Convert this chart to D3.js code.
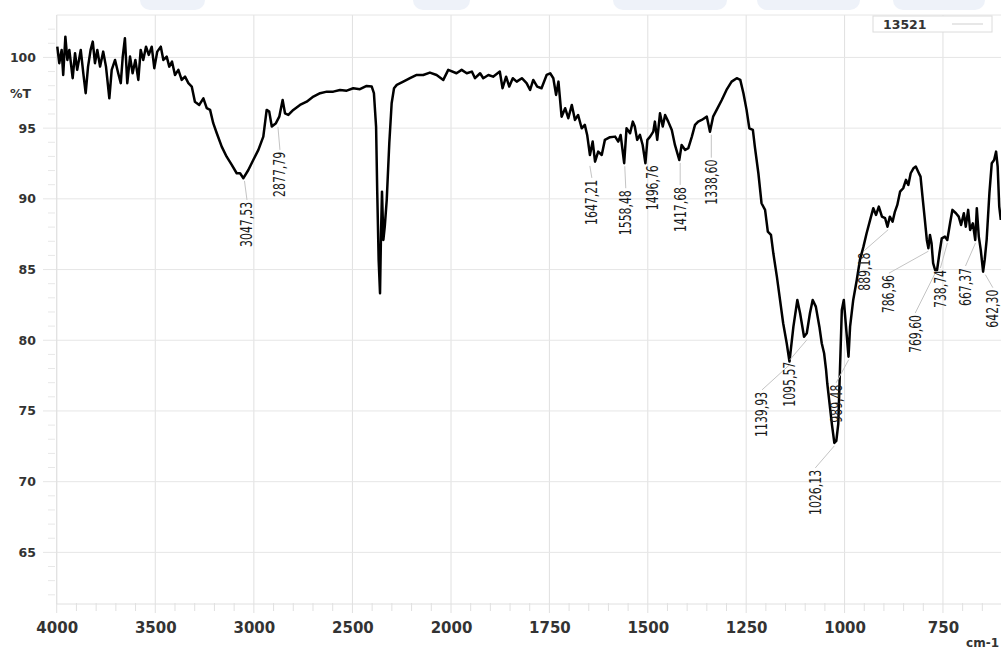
<!DOCTYPE html>
<html>
<head>
<meta charset="utf-8">
<script src="https://cdn.jsdelivr.net/npm/d3@7"></script>
<style>
  body { margin: 0; background: #fff; }
  text { font-family: 'DejaVu Sans', sans-serif; }
</style>
</head>
<body>
<svg width="1001" height="649"></svg>
<script>
// spectrum (cm-1, %T)
const wavenumber = [
  3997, 3987, 3975, 3967, 3956, 3946, 3936, 3919, 3907, 3896, 3878, 3865, 3853, 3841, 3828, 3817,
  3806, 3794, 3780, 3764, 3750, 3733, 3721, 3704, 3688, 3675, 3665, 3654, 3642, 3628, 3615, 3601,
  3586, 3574, 3561, 3547, 3533, 3518, 3505, 3490, 3472, 3459, 3442, 3429, 3415, 3400, 3383, 3366,
  3349, 3332, 3315, 3299, 3277, 3256, 3239, 3222, 3206, 3188, 3163, 3138, 3112, 3087, 3070, 3053,
  3028, 3003, 2977, 2952, 2935, 2922, 2909, 2888, 2871, 2854, 2842, 2825, 2800, 2766, 2732, 2698,
  2664, 2630, 2597, 2563, 2529, 2496, 2462, 2428, 2402, 2391, 2380, 2374, 2367, 2360, 2355, 2350,
  2343, 2336, 2326, 2313, 2301, 2289, 2275, 2242, 2208, 2174, 2141, 2107, 2073, 2039, 2014, 1986,
  1973, 1960, 1947, 1939, 1926, 1918, 1905, 1893, 1876, 1869, 1860, 1852, 1843, 1833, 1820, 1808,
  1799, 1791, 1781, 1770, 1757, 1748, 1740, 1733, 1727, 1719, 1710, 1702, 1693, 1685, 1677, 1668,
  1660, 1654, 1647, 1640, 1634, 1626, 1617, 1609, 1596, 1583, 1575, 1569, 1560, 1554, 1545, 1538,
  1533, 1527, 1520, 1513, 1506, 1501, 1494, 1486, 1482, 1476, 1469, 1462, 1456, 1448, 1439, 1431,
  1420, 1414, 1405, 1397, 1388, 1380, 1372, 1363, 1350, 1342, 1334, 1325, 1312, 1300, 1287, 1274,
  1265, 1257, 1249, 1242, 1233, 1228, 1219, 1211, 1202, 1195, 1187, 1181, 1172, 1164, 1156, 1147,
  1140, 1130, 1120, 1113, 1103, 1096, 1088, 1081, 1073, 1064, 1058, 1052, 1047, 1044, 1032, 1026,
  1021, 1016, 1007, 1002, 990, 986, 978, 969, 961, 952, 944, 935, 927, 920, 913, 905,
  897, 891, 885, 878, 872, 866, 859, 851, 844, 838, 832, 825, 819, 813, 807, 802,
  796, 791, 787, 783, 779, 775, 770, 765, 759, 753, 745, 739, 732, 726, 717, 710,
  704, 697, 692, 686, 681, 674, 668, 664, 659, 654, 648, 644, 639, 632, 626, 620,
  615, 611, 607, 603
]
const transmittance = [
  100.76, 99.59, 100.53, 98.76, 101.47, 99.82, 100.53, 98.53, 100.30, 99.12, 100.53, 98.88, 97.47, 99.35, 100.53, 101.12,
  99.59, 100.53, 99.35, 100.41, 99.35, 97.11, 99.12, 99.82, 98.88, 98.18, 100.06, 101.36, 98.18, 100.06, 98.88, 99.82,
  98.41, 100.53, 99.82, 100.76, 100.18, 100.76, 99.24, 100.41, 100.76, 99.82, 100.06, 99.35, 99.70, 98.76, 99.12, 98.41,
  98.64, 98.18, 97.94, 96.87, 96.64, 97.11, 96.41, 96.29, 95.35, 94.64, 93.69, 92.98, 92.40, 91.81, 91.81, 91.46,
  92.04, 92.75, 93.46, 94.40, 96.29, 96.17, 95.11, 95.35, 95.81, 96.99, 96.05, 95.93, 96.29, 96.64, 96.87, 97.23,
  97.47, 97.58, 97.58, 97.70, 97.65, 97.82, 97.75, 97.98, 97.94, 97.47, 95.11, 90.40, 85.68, 83.32, 87.57, 90.51,
  87.09, 88.03, 89.92, 93.93, 96.76, 97.82, 98.06, 98.29, 98.53, 98.76, 98.76, 98.93, 98.76, 98.41, 99.12, 98.88,
  99.12, 98.88, 99.00, 98.53, 98.88, 98.53, 98.76, 98.64, 99.00, 97.82, 98.64, 97.94, 98.53, 98.29, 98.53, 98.18,
  97.70, 98.41, 97.94, 97.82, 98.76, 98.88, 98.53, 97.35, 98.29, 95.81, 96.41, 95.70, 96.64, 95.58, 95.93, 94.99,
  95.23, 94.52, 93.10, 94.05, 92.63, 93.34, 93.10, 94.17, 94.36, 94.40, 94.05, 94.52, 92.52, 94.99, 94.64, 95.46,
  95.11, 94.17, 94.52, 93.81, 92.52, 94.17, 94.40, 94.75, 95.46, 94.17, 96.05, 95.11, 95.93, 95.46, 94.87, 93.81,
  92.75, 93.81, 93.46, 93.58, 94.40, 95.23, 95.46, 95.58, 95.81, 94.75, 95.81, 96.29, 96.99, 97.70, 98.29, 98.53,
  98.41, 97.47, 96.29, 94.99, 94.87, 93.69, 91.81, 89.69, 89.22, 87.68, 87.45, 86.15, 84.50, 82.85, 81.20, 79.79,
  78.49, 80.96, 82.85, 81.91, 80.25, 80.50, 81.91, 82.85, 82.38, 80.96, 79.79, 79.08, 77.90, 76.96, 74.01, 72.74,
  72.88, 74.08, 82.14, 82.85, 78.84, 80.96, 82.85, 84.26, 85.68, 86.62, 87.57, 88.51, 89.34, 88.86, 89.45, 88.74,
  88.63, 88.03, 88.74, 88.39, 89.10, 89.57, 90.51, 90.75, 91.34, 90.98, 91.81, 92.16, 92.28, 91.92, 91.57, 90.16,
  88.51, 87.09, 86.51, 87.45, 86.86, 85.45, 84.97, 84.97, 86.15, 87.21, 87.33, 87.09, 88.27, 89.22, 88.98, 88.74,
  88.15, 88.98, 88.03, 89.22, 87.80, 88.27, 87.09, 89.34, 87.33, 86.39, 84.85, 85.68, 87.09, 90.40, 92.52, 92.75,
  93.34, 92.28, 89.45, 88.51
]

// labelled peaks
const peakWavenumber = [3047.53, 2877.79, 1647.21, 1558.48, 1496.76, 1417.68, 1338.60, 1139.93, 1095.57,
  1026.13, 989.48, 889.18, 786.96, 769.60, 738.74, 667.37, 642.30]
const peakTransmittance = [91.48, 95.30, 92.54, 92.52, 92.52, 92.75, 94.75, 78.47, 80.25,
  72.74, 78.84, 88.03, 86.51, 84.97, 87.09, 87.09, 84.85]
// where each label sits relative to its peak (px)
const peakLabelOffset = [[2.5, 24], [2, 28], [2, 17], [1, 27], [3, 2], [0, 27], [0, 28], [-27.5, 30], [-17, 25],
  [-19, 27], [-12.5, 28], [-24, 26], [-39.5, 27], [-20, 45], [-7, 30], [-10, 28], [7.5, 18]]

const xTicks = [4000, 3500, 3000, 2500, 2000, 1750, 1500, 1250, 1000, 750]
const yTicks = [65, 70, 75, 80, 85, 90, 95, 100]
const seriesName = '13521'

const svg = d3.select('svg')
const plot = { left: 56.7, right: 1001, top: 15, bottom: 604 }

const x = d3.scaleLinear().domain([4000, 2000, 600]).range([plot.left, 451, 1002])
const y = d3.scaleLinear().domain([61.35, 103]).range([plot.bottom, plot.top])

// faint watermark strip at the top edge
const wm = [[140, 205], [413, 470], [613, 727], [757, 860], [893, 985]]
svg.selectAll('rect.wm').data(wm).enter().append('rect')
  .attr('class', 'wm')
  .attr('x', d => d[0]).attr('width', d => d[1] - d[0])
  .attr('y', -12).attr('height', 22).attr('rx', 10)
  .style('fill', '#eef2f9')

// grid
const grid = svg.append('g')
grid.selectAll('line.v').data(xTicks).enter().append('line')
  .attr('x1', d => x(d)).attr('x2', d => x(d))
  .attr('y1', plot.top).attr('y2', plot.bottom + 9)
  .attr('stroke', '#e0e0e0')
grid.selectAll('line.h').data(yTicks).enter().append('line')
  .attr('x1', 43).attr('x2', plot.right)
  .attr('y1', d => y(d)).attr('y2', d => y(d))
  .attr('stroke', '#e6e6e6')
grid.append('line').attr('x1', plot.left).attr('x2', plot.right).attr('y1', plot.top).attr('y2', plot.top).attr('stroke', '#e6e6e6')
grid.append('line').attr('x1', plot.left).attr('x2', plot.right).attr('y1', plot.bottom).attr('y2', plot.bottom).attr('stroke', '#e0e0e0')
grid.append('line').attr('x1', plot.left).attr('x2', plot.left).attr('y1', plot.top).attr('y2', plot.bottom).attr('stroke', '#e0e0e0')

// minor ticks
const xMinor = d3.range(3900, 2000, -100).concat(d3.range(1950, 600, -50)).filter(v => !xTicks.includes(v))
grid.selectAll('line.xm').data(xMinor).enter().append('line')
  .attr('x1', d => x(d)).attr('x2', d => x(d))
  .attr('y1', plot.bottom - 1).attr('y2', plot.bottom + 7)
  .attr('stroke', '#e0e0e0')
const yMinor = d3.range(62, 103).filter(v => v % 5 !== 0)
grid.selectAll('line.ym').data(yMinor).enter().append('line')
  .attr('x1', 48).attr('x2', 55)
  .attr('y1', d => y(d)).attr('y2', d => y(d))
  .attr('stroke', '#e8e8e8')

// axis labels
const xAxis = d3.axisBottom(x).tickValues(xTicks).tickFormat(d3.format('d')).tickSize(0).tickPadding(0)
svg.append('g').attr('transform', `translate(0,${plot.bottom + 18})`).call(xAxis)
  .call(g => g.select('.domain').remove())
  .selectAll('text')
  .style('font-family', 'DejaVu Sans, sans-serif')
  .style('font-size', '15px').style('font-weight', 'bold').style('fill', '#333')

const yAxis = d3.axisLeft(y).tickValues(yTicks).tickSize(0).tickPadding(0)
svg.append('g').attr('transform', 'translate(36,0)').call(yAxis)
  .call(g => g.select('.domain').remove())
  .selectAll('text')
  .style('font-family', 'DejaVu Sans, sans-serif')
  .style('font-size', '12.5px').style('font-weight', 'bold').style('fill', '#333')

svg.append('text').attr('x', 10).attr('y', 97.5)
  .style('font-size', '12.5px').style('font-weight', 'bold').style('fill', '#333')
  .text('%T')
svg.append('text').attr('x', 999).attr('y', 647).attr('text-anchor', 'end')
  .style('font-size', '12px').style('font-weight', 'bold').style('fill', '#333')
  .text('cm-1')

// legend
const lg = svg.append('g')
lg.append('rect').attr('x', 873).attr('y', 16).attr('width', 119).attr('height', 16)
  .style('fill', '#fff').attr('stroke', '#dcdcdc')
lg.append('text').attr('x', 883).attr('y', 29)
  .style('font-size', '12.5px').style('font-weight', 'bold').style('fill', '#333')
  .text(seriesName)
lg.append('line').attr('x1', 952).attr('x2', 983).attr('y1', 24).attr('y2', 24).attr('stroke', '#cfcfcf')

// spectrum
const points = wavenumber.map((w, i) => [w, transmittance[i]])
const line = d3.line().x(d => x(d[0])).y(d => y(d[1]))
svg.append('path').datum(points)
  .attr('d', line)
  .attr('fill', 'none')
  .attr('stroke', '#000')
  .attr('stroke-width', 2.5)
  .attr('stroke-linejoin', 'round')

// peak labels
const fmt = v => d3.format('.2f')(v).replace('.', ',')
const peaks = peakWavenumber.map((w, i) => ({ w, t: peakTransmittance[i], dx: peakLabelOffset[i][0], dy: peakLabelOffset[i][1] }))
const pg = svg.append('g')
pg.selectAll('line').data(peaks).enter().append('line')
  .filter(d => d.dy > 6)
  .attr('x1', d => x(d.w)).attr('y1', d => y(d.t) + 3)
  .attr('x2', d => x(d.w) + d.dx).attr('y2', d => y(d.t) + d.dy - 2)
  .attr('stroke', '#c4c4c4').attr('stroke-width', 1)
pg.selectAll('text').data(peaks).enter().append('text')
  .attr('transform', d => `translate(${x(d.w) + d.dx},${y(d.t) + d.dy}) rotate(-90)`)
  .attr('text-anchor', 'end')
  .attr('dominant-baseline', 'central')
  .attr('textLength', d => fmt(d.w).length === 7 ? 45 : 38)
  .attr('lengthAdjust', 'spacingAndGlyphs')
  .style('font-family', "'Liberation Sans Narrow', 'DejaVu Sans Condensed', sans-serif")
  .style('font-size', '16px')
  .style('fill', '#1a1a1a')
  .text(d => fmt(d.w))
</script>
</body>
</html>
